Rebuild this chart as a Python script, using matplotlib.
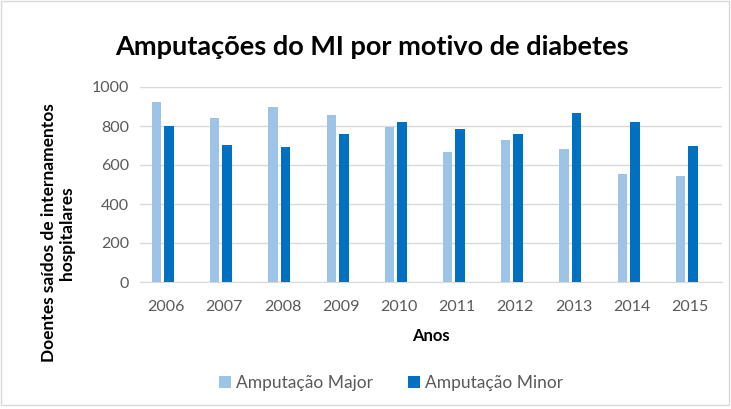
import numpy as np
import matplotlib.pyplot as plt
from matplotlib.patches import Rectangle

plt.rcParams['font.family'] = ['Lato', 'DejaVu Sans']

anos = ['2006', '2007', '2008', '2009', '2010', '2011', '2012', '2013', '2014', '2015']
major = [925, 841, 896, 856, 793, 665, 728, 684, 556, 542]
minor = [800, 703, 694, 759, 822, 783, 759, 867, 822, 699]

fig = plt.figure(figsize=(7.31, 4.09), dpi=100)
fig.patches.append(Rectangle((0.002, 0.01), 0.995, 0.988, transform=fig.transFigure,
                             fill=False, edgecolor='#d9d9d9', linewidth=1))
ax = fig.add_axes([140 / 731, 1 - 282 / 409, 582 / 731, 195 / 409])

x = np.arange(len(anos))
ax.bar(x - 0.215, major, width=0.16, color='#9dc3e6', label='Amputação Major', zorder=3)
ax.bar(x, minor, width=0.17, color='#0070c0', label='Amputação Minor', zorder=3)

ax.set_xlim(-0.5, len(anos) - 0.5)
ax.set_ylim(0, 1000)
ax.set_yticks(range(0, 1001, 200))
ax.set_xticks(x - 0.05)
ax.set_xticklabels(anos)
ax.yaxis.grid(True, color='#d9d9d9', linewidth=1, zorder=0)
for s in ['top', 'right', 'left']:
    ax.spines[s].set_visible(False)
ax.spines['bottom'].set_color('#d9d9d9')
ax.tick_params(length=0, labelsize=11.5, labelcolor='#595959')
ax.tick_params(axis='x', pad=13)
ax.tick_params(axis='y', pad=8)

ax.set_xlabel('Anos', fontsize=12, fontweight='bold', labelpad=10)
fig.text(58 / 731, 1 - 233 / 409, 'Doentes saídos de internamentos\nhospitalares',
         rotation=90, ha='center', va='center', fontsize=12.5, fontweight='bold',
         linespacing=1.1)
fig.text(372 / 731, 1 - 47 / 409, 'Amputações do MI por motivo de diabetes', ha='center',
         va='center', fontsize=19.5, fontweight='bold')
fig.legend(loc='center', bbox_to_anchor=(0.535, 1 - 383 / 409), ncol=2, frameon=False,
           fontsize=12.5, labelcolor='#595959', handlelength=0.7, handleheight=0.7,
           columnspacing=2.0, handletextpad=0.3)

fig.savefig('out.png', dpi=100)
